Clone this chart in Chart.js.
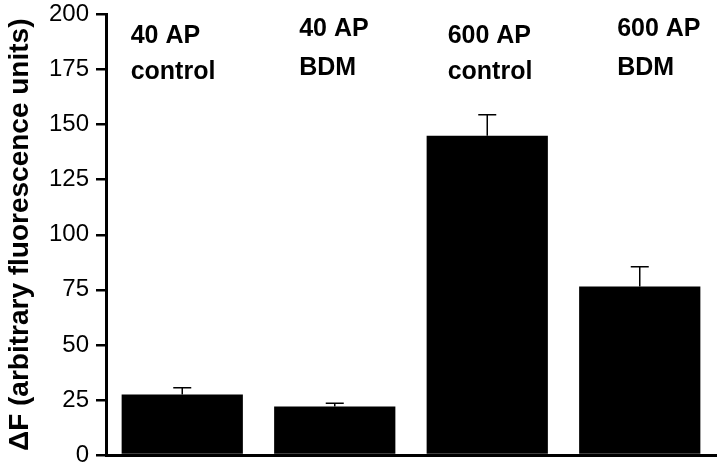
<!DOCTYPE html>
<html>
<head>
<meta charset="utf-8">
<script src="https://cdn.jsdelivr.net/npm/chart.js@4/dist/chart.umd.min.js"></script>
<style>
  html, body { margin: 0; padding: 0; background: #fff; }
  #wrap { width: 720px; height: 468px; position: relative; }
</style>
</head>
<body>
<div id="wrap"><canvas id="c" width="720" height="468"></canvas></div>
<script>
// ---- data ----
const categories = ['40 AP control', '40 AP BDM', '600 AP control', '600 AP BDM'];
const labelLine1 = ['40 AP', '40 AP', '600 AP', '600 AP'];
const labelLine2 = ['control', 'BDM', 'control', 'BDM'];
const meanValues = [27.5, 22, 145, 76.5];
const errorValues = [3, 1.5, 9.5, 9];
const yTicks = [0, 25, 50, 75, 100, 125, 150, 175, 200];
const yTitle = '\u0394F (arbitrary fluorescence units)';

// ---- style / layout tweaks (not data) ----
const labelOffsetX = [9, 25, 21, 38];       // px from bar left edge
const labelBaseline1 = [28, 21, 28, 21];    // px below chart top
const labelBaseline2 = [64, 60, 64, 60];

const errorBarPlugin = {
  id: 'errorBars',
  afterDatasetsDraw(chart) {
    const ctx = chart.ctx;
    const meta = chart.getDatasetMeta(0);
    const y = chart.scales.y;
    ctx.save();
    ctx.strokeStyle = '#000';
    ctx.lineWidth = 1.5;
    meta.data.forEach((bar, i) => {
      const top = y.getPixelForValue(meanValues[i] + errorValues[i]);
      const base = y.getPixelForValue(meanValues[i]);
      ctx.beginPath();
      ctx.moveTo(bar.x, base);
      ctx.lineTo(bar.x, top);
      ctx.moveTo(bar.x - 9, top);
      ctx.lineTo(bar.x + 9, top);
      ctx.stroke();
    });
    ctx.restore();
  }
};

const labelPlugin = {
  id: 'groupLabels',
  afterDraw(chart) {
    const ctx = chart.ctx;
    const meta = chart.getDatasetMeta(0);
    const top = chart.chartArea.top;
    ctx.save();
    ctx.fillStyle = '#000';
    ctx.font = 'bold 25px "Liberation Sans", Arial, sans-serif';
    ctx.textAlign = 'left';
    ctx.textBaseline = 'alphabetic';
    meta.data.forEach((bar, i) => {
      const left = bar.x - bar.width / 2 + labelOffsetX[i];
      ctx.fillText(labelLine1[i], left, top + labelBaseline1[i]);
      ctx.fillText(labelLine2[i], left, top + labelBaseline2[i]);
    });
    ctx.restore();
  }
};

new Chart(document.getElementById('c'), {
  type: 'bar',
  data: {
    labels: categories,
    datasets: [{
      data: meanValues,
      backgroundColor: '#000',
      borderWidth: 0,
      barPercentage: 0.795,
      categoryPercentage: 1.0
    }]
  },
  options: {
    responsive: false,
    animation: false,
    devicePixelRatio: 1,
    layout: { padding: { top: 14.5, right: 4, left: 0, bottom: 0 } },
    plugins: { legend: { display: false }, tooltip: { enabled: false } },
    scales: {
      x: {
        afterFit: (s) => { s.height = 13; s.paddingLeft = 0; s.paddingRight = 0; },
        grid: { display: false, drawTicks: false },
        border: { display: true, color: '#000', width: 3 },
        ticks: { display: false }
      },
      y: {
        min: 0,
        max: 200,
        afterFit: (s) => { s.width = 106; s.paddingTop = 0; s.paddingBottom = 0; },
        afterBuildTicks: (s) => { s.ticks = yTicks.map(v => ({ value: v })); },
        grid: { display: true, drawOnChartArea: false, drawTicks: true, tickLength: 10, color: '#000', lineWidth: 2.5 },
        border: { display: true, color: '#000', width: 3 },
        ticks: {
          color: '#000',
          padding: 7,
          font: { family: '"Liberation Sans", Arial, sans-serif', size: 24 }
        },
        title: {
          display: true,
          text: yTitle,
          color: '#000',
          padding: { top: 3, bottom: 0 },
          font: { family: '"Liberation Sans", Arial, sans-serif', size: 28, weight: 'bold' }
        }
      }
    }
  },
  plugins: [errorBarPlugin, labelPlugin]
});
</script>
</body>
</html>
